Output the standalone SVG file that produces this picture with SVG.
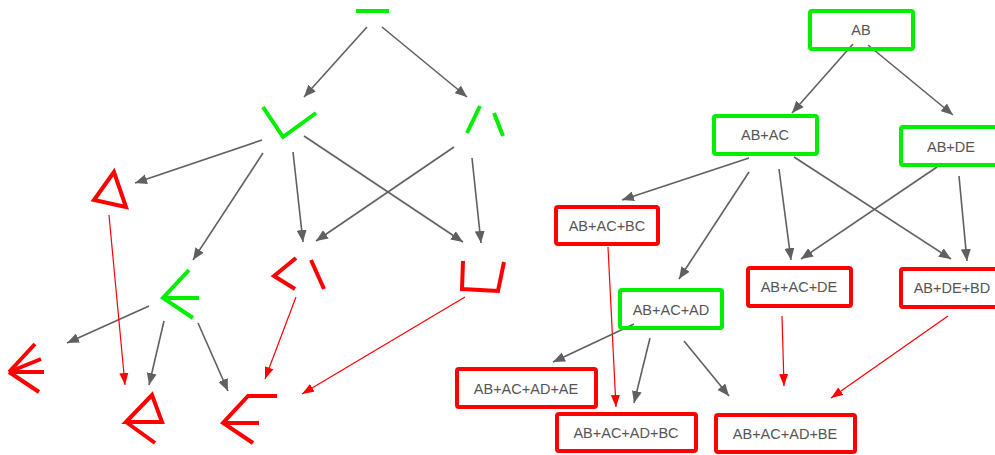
<svg xmlns="http://www.w3.org/2000/svg" width="995" height="455" viewBox="0 0 995 455">
<defs>
<style>
.g{stroke:#606060;stroke-width:1.6;fill:none;marker-end:url(#ag)}
.r{stroke:#ff0000;stroke-width:1.2;fill:none;marker-end:url(#ar)}
.gs{stroke:#00ee00;stroke-width:4;fill:none;stroke-linecap:butt;stroke-linejoin:miter}
.rs{stroke:#ff0000;stroke-width:4;fill:none;stroke-linecap:butt;stroke-linejoin:miter}
.gb{stroke:#00ee00;stroke-width:4;fill:none}
.rb{stroke:#ff0000;stroke-width:4;fill:none}
text{font-family:"Liberation Sans",Arial,sans-serif;font-size:14.5px;fill:#555;text-anchor:middle;dominant-baseline:central}
</style>
<marker id="ag" markerUnits="userSpaceOnUse" markerWidth="12" markerHeight="10" refX="12" refY="5" orient="auto"><path d="M0,0 L12,5 L0,10 z" fill="#606060"/></marker>
<marker id="ar" markerUnits="userSpaceOnUse" markerWidth="12" markerHeight="10" refX="12" refY="5" orient="auto"><path d="M0,0.5 L12,5 L0,9.5 z" fill="#ff0000"/></marker>
</defs>
<rect width="995" height="455" fill="#fff"/>
<g id="connectors">
<line class="g" x1="367" y1="27" x2="304" y2="97"/>
<line class="g" x1="382" y1="27" x2="467" y2="97"/>
<line class="g" x1="262" y1="140" x2="135" y2="183"/>
<line class="g" x1="263" y1="153" x2="193" y2="260"/>
<line class="g" x1="293" y1="152" x2="303" y2="242"/>
<line class="g" x1="304" y1="136" x2="463" y2="242"/>
<line class="g" x1="454" y1="147" x2="316" y2="241"/>
<line class="g" x1="472" y1="158" x2="481" y2="243"/>
<line class="g" x1="149" y1="306" x2="67" y2="343"/>
<line class="g" x1="164" y1="321" x2="149" y2="385"/>
<line class="g" x1="198" y1="323" x2="228" y2="391"/>
<line class="r" x1="109" y1="215" x2="125" y2="385"/>
<line class="r" x1="296" y1="297" x2="265" y2="379"/>
<line class="r" x1="465" y1="297" x2="302" y2="394"/>
<line class="g" x1="853" y1="44" x2="792" y2="113"/>
<line class="g" x1="868" y1="45" x2="953" y2="115"/>
<line class="g" x1="749" y1="158" x2="622" y2="200"/>
<line class="g" x1="749" y1="172" x2="679" y2="279"/>
<line class="g" x1="779" y1="169" x2="791" y2="260"/>
<line class="g" x1="794" y1="157" x2="951" y2="259"/>
<line class="g" x1="937" y1="167" x2="801" y2="259"/>
<line class="g" x1="959" y1="176" x2="967" y2="261"/>
<line class="r" x1="608" y1="247" x2="616" y2="407"/>
<line class="g" x1="634" y1="324" x2="553" y2="362"/>
<line class="g" x1="650" y1="338" x2="634" y2="403"/>
<line class="g" x1="684" y1="341" x2="729" y2="396"/>
<line class="r" x1="782" y1="316" x2="784" y2="386"/>
<line class="r" x1="948" y1="316" x2="831" y2="398"/>
</g>
<g id="n-top"><line class="gs" x1="356" y1="11" x2="389" y2="11"/></g>
<g id="n-v"><polyline class="gs" points="263,107 283,137 316,113"/></g>
<g id="n-lambda"><line class="gs" x1="480" y1="106" x2="467" y2="133"/><line class="gs" x1="494" y1="113" x2="503" y2="136"/></g>
<g id="n-tri"><polygon class="rs" points="114,172 94,200 126,207"/></g>
<g id="n-lt-bs"><polyline class="rs" points="296,258 274,276 295,289"/><line class="rs" x1="311" y1="260" x2="324" y2="289"/></g>
<g id="n-cup"><polyline class="rs" points="463,261 462,289 498,291 504,262"/></g>
<g id="n-arrow"><polyline class="gs" points="189,270 163,298 193,318"/><line class="gs" x1="163" y1="298" x2="199" y2="298"/></g>
<g id="n-fork"><line class="rs" x1="9" y1="372" x2="35" y2="344"/><line class="rs" x1="9" y1="372" x2="41" y2="359"/><line class="rs" x1="9" y1="372" x2="44" y2="372"/><line class="rs" x1="9" y1="372" x2="39" y2="392"/></g>
<g id="n-tri-arrow"><polygon class="rs" points="126,422 152,395 162,422"/><line class="rs" x1="126" y1="422" x2="155" y2="443"/></g>
<g id="n-bar-arrow"><polyline class="rs" points="277,396 248,396 223,423 253,443"/><line class="rs" x1="223" y1="423" x2="259" y2="423"/></g>
<g id="n-AB"><rect class="gb" x="810" y="11" width="103" height="38" rx="2"/><text x="861" y="30">AB</text></g>
<g id="n-AB-AC"><rect class="gb" x="714" y="116" width="103" height="38" rx="2"/><text x="765" y="135">AB+AC</text></g>
<g id="n-AB-DE"><rect class="gb" x="901" y="127" width="103" height="38" rx="2"/><text x="951" y="147">AB+DE</text></g>
<g id="n-AB-AC-BC"><rect class="rb" x="556" y="207" width="102" height="37" rx="2"/><text x="607" y="226">AB+AC+BC</text></g>
<g id="n-AB-AC-AD"><rect class="gb" x="620" y="290" width="102" height="38" rx="2"/><text x="671" y="310">AB+AC+AD</text></g>
<g id="n-AB-AC-DE"><rect class="rb" x="748" y="268" width="103" height="38" rx="2"/><text x="799" y="287">AB+AC+DE</text></g>
<g id="n-AB-DE-BD"><rect class="rb" x="901" y="269" width="103" height="38" rx="2"/><text x="952" y="288">AB+DE+BD</text></g>
<g id="n-AB-AC-AD-AE"><rect class="rb" x="457" y="369" width="139" height="38" rx="2"/><text x="526" y="389">AB+AC+AD+AE</text></g>
<g id="n-AB-AC-AD-BC"><rect class="rb" x="557" y="414" width="139" height="37" rx="2"/><text x="626" y="433">AB+AC+AD+BC</text></g>
<g id="n-AB-AC-AD-BE"><rect class="rb" x="716" y="415" width="139" height="37" rx="2"/><text x="785" y="434">AB+AC+AD+BE</text></g>
</svg>
